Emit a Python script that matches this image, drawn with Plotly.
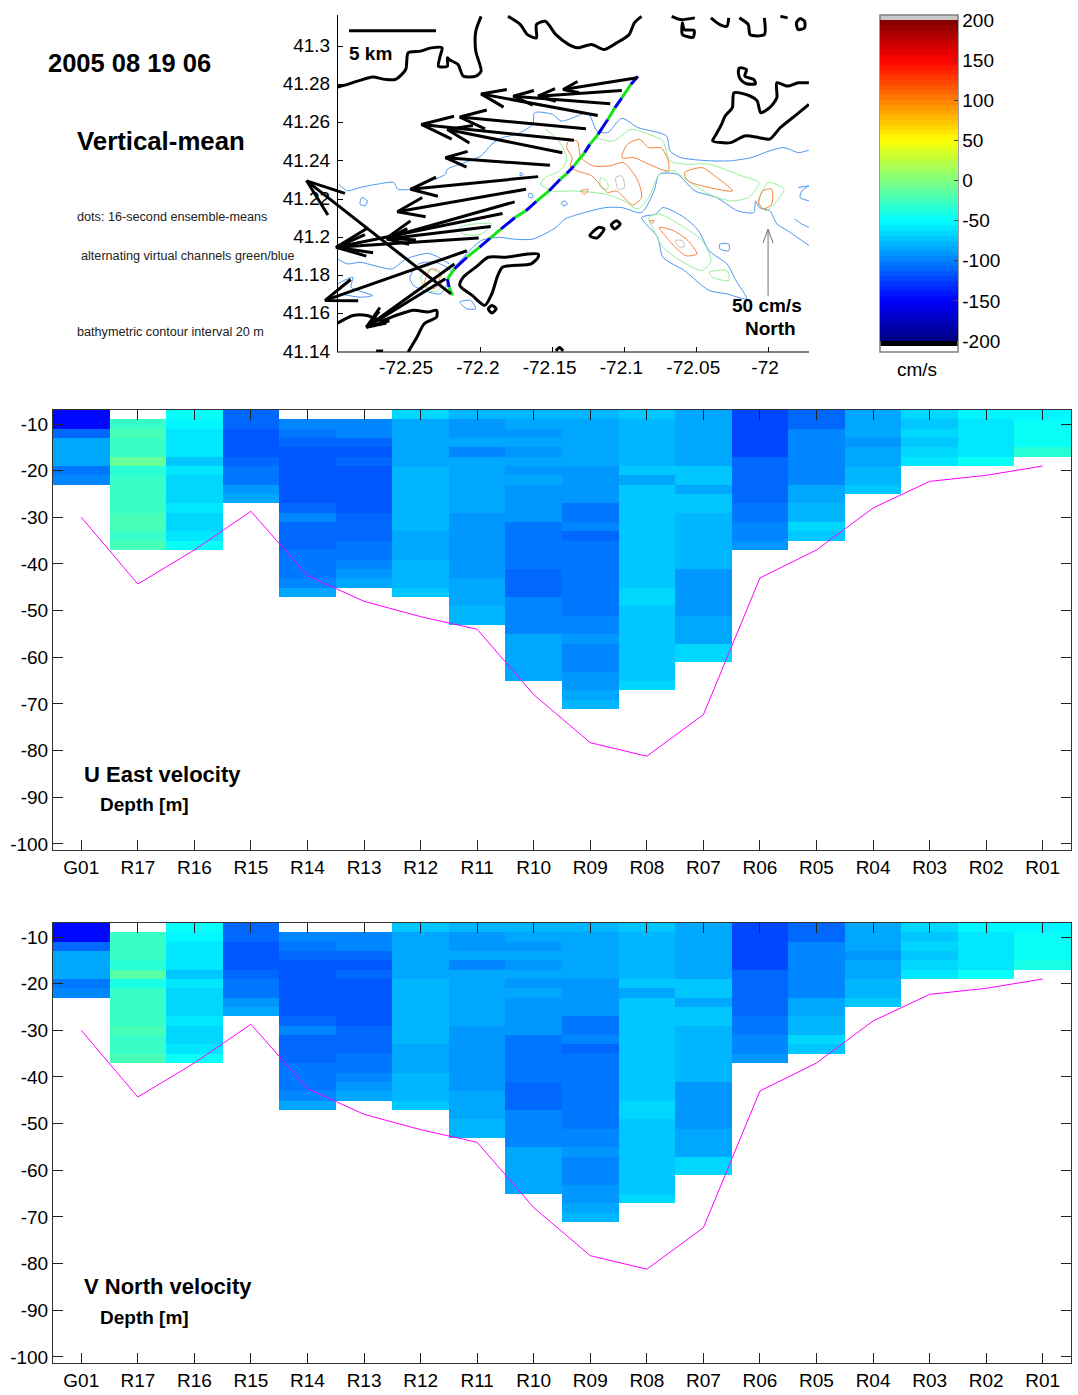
import numpy as np
import plotly.graph_objects as go

FONT = "Liberation Sans, Arial, sans-serif"
W, H = 1078, 1395

stations = ["G01","R17","R16","R15","R14","R13","R12","R11","R10","R09","R08","R07","R06","R05","R04","R03","R02","R01"]
bin_depths = [-8 - 2*i for i in range(32)]
bottom_depth = [-30,-44.3,-37,-28.7,-42.5,-48,-51.3,-54,-68,-78.3,-81.2,-72.3,-43,-37,-28,-22.3,-21,-19]

u_g01 = [-150,-145,-112,-87,-87,-87,-106,-97]
u_r17 = [None,-31,-25,-31,-31,-12,-37,-31,-31,-31,-31,-25,-25,-31,-25]
u_r16 = [-50,-56,-62,-62,-62,-72,-62,-68,-68,-68,-62,-68,-68,-62,-50]
u_r15 = [-112,-110,-115,-115,-115,-112,-102,-102,-90,-83]
u_r14 = [None,-100,-103,-107,-113,-115,-115,-115,-115,-115,-107,-100,-108,-108,-108,-103,-103,-103,-95,-87]
u_r13 = [None,-100,-100,-107,-115,-108,-115,-115,-115,-115,-115,-110,-110,-110,-105,-105,-97,-90,-82]
u_r12 = [-68,-83,-87,-87,-87,-87,-81,-81,-81,-81,-81,-81,-81,-87,-87,-87,-81,-81,-81,-75]
u_r11 = [-81,-92,-92,-87,-95,-87,-87,-87,-87,-87,-87,-92,-92,-90,-92,-92,-92,-92,-87,-87,-87,-81,-81]
u_r10 = [-81,-85,-93,-85,-93,-85,-93,-85,-93,-93,-93,-93,-103,-103,-103,-103,-103,-110,-110,-110,-100,-95,-95,-95,-87,-87,-87,-87,-87]
u_r09 = [-76,-82,-87,-87,-87,-87,-93,-93,-93,-93,-106,-106,-100,-112,-103,-103,-103,-103,-103,-103,-103,-103,-97,-97,-91,-100,-100,-100,-92,-92,-85,-78]
u_r08 = [-75,-81,-81,-81,-81,-81,-75,-83,-75,-75,-75,-75,-75,-75,-75,-75,-75,-75,-75,-68,-68,-75,-75,-75,-75,-75,-75,-75,-75,-68]
u_r07 = [-87,-87,-87,-87,-83,-83,-75,-75,-83,-75,-75,-81,-81,-81,-81,-81,-81,-89,-89,-89,-89,-89,-83,-83,-83,-68,-68]
u_r06 = [-119,-119,-119,-119,-119,-112,-112,-112,-112,-112,-106,-106,-100,-100,-92]
u_r05 = [-108,-108,-100,-100,-100,-100,-94,-94,-87,-87,-81,-81,-68,-75]
u_r04 = [-87,-87,-87,-93,-87,-87,-81,-81,-75]
u_r03 = [-68,-75,-68,-75,-68,-62]
u_r02 = [-56,-62,-62,-62,-62,-50]
u_r01 = [-56,-50,-50,-50,-37]

v_g01 = [-150,-145,-112,-87,-87,-87,-106,-97]
v_r17 = [None,-31,-27,-31,-32,-14,-38,-31,-31,-31,-31,-24,-31,-31,-24]
v_r16 = [-50,-56,-62,-62,-62,-72,-60,-68,-68,-68,-60,-66,-66,-60,-50]
v_r15 = [-112,-110,-115,-115,-115,-112,-102,-102,-90,-83]
v_r14 = [None,-100,-103,-107,-113,-115,-115,-115,-115,-115,-107,-100,-108,-108,-108,-103,-103,-103,-95,-87]
v_r13 = [None,-100,-100,-107,-115,-108,-115,-115,-115,-115,-115,-110,-110,-110,-105,-105,-97,-90,-82]
v_r12 = [-74,-83,-87,-87,-87,-87,-81,-81,-81,-81,-81,-81,-81,-87,-87,-87,-81,-81,-81,-75]
v_r11 = [-81,-92,-92,-87,-95,-87,-87,-87,-87,-87,-87,-92,-92,-90,-92,-92,-92,-92,-87,-87,-87,-81,-81]
v_r10 = [-81,-85,-93,-85,-93,-85,-93,-85,-93,-93,-93,-93,-103,-103,-103,-103,-103,-110,-110,-110,-100,-95,-95,-95,-87,-87,-87,-87,-87]
v_r09 = [-76,-82,-87,-87,-87,-87,-93,-93,-93,-93,-106,-106,-100,-112,-103,-103,-103,-103,-103,-103,-103,-103,-97,-97,-91,-100,-100,-100,-92,-92,-85,-78]
v_r08 = [-73,-81,-81,-81,-81,-81,-75,-83,-75,-75,-75,-75,-75,-75,-75,-75,-75,-75,-75,-68,-68,-75,-75,-75,-75,-75,-75,-75,-75,-68]
v_r07 = [-87,-87,-87,-87,-83,-83,-75,-75,-83,-75,-75,-81,-81,-81,-81,-81,-81,-89,-89,-89,-89,-89,-83,-83,-83,-68,-68]
v_r06 = [-119,-119,-119,-119,-119,-112,-112,-112,-112,-112,-106,-106,-100,-100,-92]
v_r05 = [-108,-108,-100,-100,-100,-100,-94,-94,-87,-87,-81,-81,-68,-75]
v_r04 = [-87,-87,-87,-93,-87,-87,-81,-81,-75]
v_r03 = [-68,-74,-68,-75,-68,-62]
v_r02 = [-56,-62,-62,-62,-62,-50]
v_r01 = [-56,-50,-50,-50,-38]

# coastline pieces (lon, lat)
coast_nw = [(-72.2997,41.2787),(-72.2928,41.2801),(-72.2841,41.2822),(-72.2754,41.2839),(-72.2667,41.2827),(-72.2593,41.2827),(-72.2523,41.2879),(-72.2506,41.2966),(-72.2419,41.2975),(-72.2345,41.2992),(-72.2270,41.2992),(-72.2283,41.2949),(-72.2295,41.2896),(-72.2233,41.2896),(-72.2233,41.2940),(-72.2221,41.2931),(-72.2159,41.2905),(-72.2122,41.2844),(-72.2035,41.2844),(-72.1998,41.2870),(-72.2035,41.2975),(-72.2035,41.3079),(-72.1998,41.3157)]
coast_n = [(-72.1811,41.3157),(-72.1725,41.3114),(-72.1675,41.3061),(-72.1613,41.3044),(-72.1613,41.3114),(-72.1551,41.3131),(-72.1477,41.3061),(-72.1390,41.3010),(-72.1328,41.2992),(-72.1229,41.3010),(-72.1142,41.2983),(-72.1055,41.3018),(-72.0968,41.3061),(-72.0931,41.3123),(-72.0881,41.3157)]
coast_c = [(-72.0671,41.3157),(-72.0609,41.3140),(-72.0510,41.3149)]
coast_c2 = [(-72.0596,41.3123),(-72.0596,41.3061),(-72.0522,41.3048),(-72.0515,41.3083),(-72.0584,41.3088),(-72.0596,41.3123)]
coast_d = [(-72.0398,41.3149),(-72.0336,41.3114),(-72.0287,41.3105),(-72.0274,41.3149)]
coast_e = [(-72.0200,41.3149),(-72.0138,41.3114),(-72.0125,41.3061),(-72.0026,41.3061),(-72.0026,41.3149)]
coast_f = [(-71.9914,41.3157),(-71.9864,41.3149)]
coast_g = [(-71.9803,41.3122),(-71.9790,41.3088),(-71.9746,41.3097),(-71.9746,41.3131),(-71.9778,41.3145),(-71.9803,41.3122)]
coast_h = [(-72.0199,41.2887),(-72.0150,41.2879),(-72.0162,41.2844),(-72.0100,41.2827),(-72.0088,41.2804),(-72.0150,41.2804),(-72.0192,41.2827),(-72.0207,41.2862),(-72.0199,41.2887)]
coast_i = [(-71.9716,41.2809),(-71.9790,41.2809),(-71.9865,41.2792),(-71.9939,41.2809),(-71.9939,41.2731),(-71.9989,41.2679),(-72.0051,41.2653),(-72.0076,41.2714),(-72.0125,41.2740),(-72.0237,41.2757),(-72.0249,41.2679),(-72.0299,41.2635),(-72.0324,41.2592),(-72.0361,41.2540),(-72.0386,41.2505),(-72.0262,41.2496),(-72.0162,41.2531),(-72.0063,41.2522),(-71.9989,41.2514),(-71.9914,41.2575),(-71.9815,41.2635),(-71.9716,41.2696)]
coast_j = [(-72.1241,41.2009),(-72.1179,41.2052),(-72.1142,41.2044),(-72.1191,41.1997),(-72.1241,41.2009)]
coast_k = [(-72.1092,41.2066),(-72.1055,41.2087),(-72.1030,41.2070),(-72.1067,41.2044),(-72.1092,41.2066)]
coast_l = [(-72.1601,41.1913),(-72.1675,41.1913),(-72.1824,41.1896),(-72.1948,41.1896),(-72.2035,41.1844),(-72.2122,41.1792),(-72.2146,41.1748),(-72.2060,41.1696),(-72.1973,41.1644),(-72.1923,41.1705),(-72.1886,41.1792),(-72.1849,41.1844),(-72.1650,41.1861),(-72.1601,41.1896),(-72.1601,41.1913)]
coast_dot = [(-72.1948,41.1626),(-72.1923,41.1644),(-72.1893,41.1626),(-72.1923,41.1604),(-72.1948,41.1626)]
coast_m = [(-72.2997,41.1551),(-72.2890,41.1591),(-72.2791,41.1591),(-72.2692,41.1565),(-72.2593,41.1591),(-72.2469,41.1618),(-72.2370,41.1609),(-72.2308,41.1618),(-72.2308,41.1583),(-72.2394,41.1548),(-72.2444,41.1478),(-72.2506,41.1400)]
coast_n1 = [(-72.2729,41.1405),(-72.2680,41.1405)]
coast_n2 = [(-72.1477,41.1405),(-72.1452,41.1423),(-72.1427,41.1405)]

# bathymetric contours (lon, lat)
blue_north = [(-72.2990,41.2279),(-72.2928,41.2244),(-72.2841,41.2261),(-72.2717,41.2279),(-72.2605,41.2287),(-72.2580,41.2253),(-72.2481,41.2253),(-72.2345,41.2296),(-72.2246,41.2331),(-72.2233,41.2357),(-72.2146,41.2383),(-72.1998,41.2427),(-72.1923,41.2488),(-72.1849,41.2522),(-72.1750,41.2540),(-72.1638,41.2592),(-72.1626,41.2653),(-72.1502,41.2644),(-72.1440,41.2609),(-72.1328,41.2635),(-72.1254,41.2653),(-72.1192,41.2557),(-72.1117,41.2548),(-72.1018,41.2623),(-72.0906,41.2575),(-72.0708,41.2531),(-72.0683,41.2453),(-72.0609,41.2418),(-72.0410,41.2401),(-72.0262,41.2401),(-72.0113,41.2418),(-71.9989,41.2453),(-71.9890,41.2470),(-71.9790,41.2444),(-71.9716,41.2456)]
blue_south = [(-72.2184,41.1843),(-72.1998,41.1983),(-72.1873,41.2000),(-72.1774,41.1991),(-72.1638,41.1991),(-72.1477,41.2052),(-72.1414,41.2096),(-72.1278,41.2130),(-72.1129,41.2156),(-72.1018,41.2156),(-72.0881,41.2130),(-72.0794,41.2243),(-72.0757,41.2330),(-72.0633,41.2330),(-72.0509,41.2243),(-72.0360,41.2209),(-72.0211,41.2139),(-72.0100,41.2130),(-72.0087,41.2191),(-72.0062,41.2156),(-71.9988,41.2139),(-71.9938,41.2070),(-71.9864,41.2035),(-71.9715,41.1957)]
blue_ridge = [(-72.0881,41.2104),(-72.0782,41.2122),(-72.0732,41.2156),(-72.0583,41.2104),(-72.0484,41.2035),(-72.0410,41.1930),(-72.0286,41.1861),(-72.0224,41.1774),(-72.0149,41.1678),(-72.0286,41.1704),(-72.0410,41.1722),(-72.0583,41.1826),(-72.0732,41.1896),(-72.0769,41.2000),(-72.0881,41.2104)]
blue_sw = [(-72.2997,41.1887),(-72.2928,41.1861),(-72.2841,41.1870),(-72.2742,41.1852),(-72.2618,41.1835),(-72.2519,41.1887),(-72.2370,41.1916),(-72.2295,41.1896),(-72.2221,41.1861)]
blue_sw2 = [(-72.2494,41.1791),(-72.2432,41.1861),(-72.2320,41.1870),(-72.2208,41.1826),(-72.2233,41.1757),(-72.2283,41.1704),(-72.2394,41.1722),(-72.2469,41.1748),(-72.2494,41.1791)]
blue_w = [(-72.2997,41.1757),(-72.2891,41.1791),(-72.2903,41.1739),(-72.2754,41.1696),(-72.2841,41.1687),(-72.2978,41.1704)]
blue_s1 = [(-72.2146,41.1661),(-72.2072,41.1670),(-72.2035,41.1626),(-72.2097,41.1626),(-72.2146,41.1661)]
blue_b1 = [(-72.2829,41.2209),(-72.2791,41.2191),(-72.2804,41.2165),(-72.2841,41.2174),(-72.2829,41.2209)]
blue_b2 = [(-72.1439,41.2183),(-72.1414,41.2191),(-72.1397,41.2174),(-72.1427,41.2165),(-72.1439,41.2183)]
blue_b3 = [(-72.0335,41.1965),(-72.0273,41.1965),(-72.0273,41.1930),(-72.0335,41.1939),(-72.0335,41.1965)]
blue_b4 = [(-71.9790,41.2261),(-71.9715,41.2270)]
blue_b5 = [(-71.9715,41.2270),(-71.9765,41.2243),(-71.9777,41.2209),(-71.9715,41.2191)]
blue_b6 = [(-72.1670,41.2226),(-72.1645,41.2229),(-72.1638,41.2209),(-72.1663,41.2209),(-72.1670,41.2226)]
blue_b7 = [(-72.1725,41.2339),(-72.1705,41.2330),(-72.1725,41.2322),(-72.1725,41.2339)]
blue_b8 = [(-71.9814,41.2096),(-71.9765,41.2070),(-71.9715,41.2052)]

green_a = [(-72.1588,41.2278),(-72.1551,41.2313),(-72.1452,41.2348),(-72.1402,41.2400),(-72.1427,41.2469),(-72.1501,41.2539),(-72.1551,41.2565)]
green_b = [(-72.1204,41.2522),(-72.1080,41.2504),(-72.0955,41.2565),(-72.0831,41.2539),(-72.0732,41.2504),(-72.0683,41.2400),(-72.0571,41.2383),(-72.0410,41.2383),(-72.0186,41.2322),(-72.0062,41.2287),(-72.0137,41.2209),(-72.0261,41.2191),(-72.0410,41.2226),(-72.0558,41.2296),(-72.0658,41.2348),(-72.0757,41.2330),(-72.0831,41.2209),(-72.0906,41.2148),(-72.1005,41.2191),(-72.1129,41.2226),(-72.1352,41.2243),(-72.1501,41.2243),(-72.1588,41.2278)]
green_c = [(-72.0062,41.2183),(-72.0000,41.2287),(-71.9889,41.2252),(-71.9938,41.2191),(-72.0013,41.2139),(-72.0062,41.2183)]
green_d = [(-72.0831,41.2104),(-72.0757,41.2122),(-72.0583,41.2052),(-72.0459,41.1983),(-72.0397,41.1878),(-72.0459,41.1826),(-72.0608,41.1878),(-72.0732,41.1948),(-72.0794,41.2035),(-72.0831,41.2104)]
green_e = [(-72.0410,41.1817),(-72.0286,41.1826),(-72.0273,41.1774),(-72.0385,41.1791),(-72.0410,41.1817)]
green_f = [(-72.2419,41.1791),(-72.2345,41.1835),(-72.2270,41.1791),(-72.2295,41.1722),(-72.2370,41.1722),(-72.2419,41.1791)]
green_g = [(-72.2146,41.2052),(-72.2047,41.2070),(-72.1923,41.2070),(-72.1998,41.2017),(-72.2122,41.2017),(-72.2146,41.2052)]
green_h = [(-72.1166,41.2313),(-72.1117,41.2287),(-72.1117,41.2252),(-72.1166,41.2261),(-72.1166,41.2313)]

orange_a = [(-72.1390,41.2504),(-72.1328,41.2504),(-72.1303,41.2417),(-72.1216,41.2374),(-72.1104,41.2374),(-72.1005,41.2391),(-72.0906,41.2296),(-72.0881,41.2209),(-72.0943,41.2170),(-72.1055,41.2243),(-72.1117,41.2235),(-72.1154,41.2261),(-72.1228,41.2322),(-72.1328,41.2348),(-72.1377,41.2365),(-72.1365,41.2417),(-72.1402,41.2469),(-72.1390,41.2504)]
orange_b = [(-72.1018,41.2417),(-72.0980,41.2487),(-72.0893,41.2513),(-72.0831,41.2469),(-72.0745,41.2469),(-72.0695,41.2400),(-72.0695,41.2348),(-72.0831,41.2383),(-72.0931,41.2417),(-72.1018,41.2417)]
orange_c = [(-72.0583,41.2339),(-72.0459,41.2365),(-72.0385,41.2330),(-72.0248,41.2243),(-72.0410,41.2261),(-72.0558,41.2296),(-72.0583,41.2339)]
orange_d = [(-72.0067,41.2183),(-72.0037,41.2243),(-71.9975,41.2252),(-71.9975,41.2174),(-72.0037,41.2148),(-72.0067,41.2183)]
orange_e = [(-72.1303,41.2243),(-72.1253,41.2252),(-72.1278,41.2226),(-72.1303,41.2243)]
orange_f = [(-72.0757,41.2052),(-72.0658,41.2035),(-72.0558,41.1983),(-72.0496,41.1913),(-72.0571,41.1904),(-72.0658,41.1957),(-72.0707,41.2000),(-72.0757,41.2052)]
orange_g = [(-72.0826,41.2087),(-72.0794,41.2087),(-72.0807,41.2073),(-72.0826,41.2087)]
orange_h = [(-72.2394,41.1757),(-72.2345,41.1835),(-72.2283,41.1817),(-72.2308,41.1739),(-72.2357,41.1730),(-72.2394,41.1757)]

gray_a = [(-72.1060,41.2313),(-72.1018,41.2322),(-72.1000,41.2261),(-72.1042,41.2252),(-72.1060,41.2313)]
gray_b = [(-72.0646,41.1983),(-72.0596,41.1983),(-72.0583,41.1951),(-72.0620,41.1951),(-72.0646,41.1983)]

# ship track and vertical-mean velocity vectors
track = [(-72.0906,41.2843),(-72.0956,41.2800),(-72.1018,41.2730),(-72.1067,41.2678),(-72.1116,41.2617),(-72.1184,41.2539),(-72.1241,41.2487),(-72.1278,41.2443),(-72.1352,41.2374),(-72.1402,41.2334),(-72.1447,41.2304),(-72.1526,41.2243),(-72.1613,41.2188),(-72.1687,41.2139),(-72.1762,41.2104),(-72.1861,41.2043),(-72.1935,41.1996),(-72.2010,41.1948),(-72.2097,41.1896),(-72.2184,41.1835),(-72.2233,41.1783),(-72.2221,41.1739),(-72.2196,41.1696)]
arrow_tail = [(-72.0911,41.2835),(-72.1018,41.2769),(-72.1099,41.2699),(-72.1186,41.2638),(-72.1268,41.2569),(-72.1352,41.2508),(-72.1432,41.2443),(-72.1519,41.2377),(-72.1601,41.2318),(-72.1685,41.2252),(-72.1764,41.2186),(-72.1849,41.2125),(-72.1931,41.2057),(-72.2015,41.1997),(-72.2097,41.1930),(-72.2184,41.1861),(-72.2246,41.1783),(-72.2208,41.1704)]
arrow_tip = [(-72.1427,41.2774),(-72.1601,41.2739),(-72.1774,41.2739),(-72.1998,41.2751),(-72.2146,41.2630),(-72.2414,41.2591),(-72.2233,41.2565),(-72.2246,41.2417),(-72.2489,41.2252),(-72.2581,41.2134),(-72.2655,41.1997),(-72.3007,41.1948),(-72.2655,41.1991),(-72.3007,41.1948),(-72.3084,41.1670),(-72.2796,41.1530),(-72.2796,41.1530),(-72.3213,41.2296)]
north_tail = [(-72.0000,41.1695)]
north_tip = [(-72.0000,41.2043)]
scale_bar = [(-72.2918,41.3081),(-72.2312,41.3081)]

# ---- helpers ----
MAP_X = [-72.3259,-71.9715]   # plot area starts left of the drawn axis so long vectors are not clipped
MAP_Y = [41.14,41.3164]
PX_LON = 509/(MAP_X[1]-MAP_X[0])
PX_LAT = 337/(MAP_Y[1]-MAP_Y[0])

def jet_steps(n=64):
    scale = []
    for i in range(n):
        x = (i+0.5)/n
        r = np.clip(min(4*x-1.5,-4*x+4.5),0,1)
        g = np.clip(min(4*x-0.5,-4*x+3.5),0,1)
        b = np.clip(min(4*x+0.5,-4*x+2.5),0,1)
        c = f"rgb({int(r*255)},{int(g*255)},{int(b*255)})"
        scale += [[i/n,c],[(i+1)/n,c]]
    return scale

def rows(cols):
    filled = [list(c)+[None]*(len(bin_depths)-len(c)) for c in cols]
    return [list(r) for r in zip(*filled)]

def polyline(pieces):
    xs, ys = [], []
    for p in pieces:
        xs += [q[0] for q in p]+[None]
        ys += [q[1] for q in p]+[None]
    return xs, ys

def quiver(tails, tips, ratio=0.22, ang=20):
    xs, ys = [], []
    a = np.radians(ang)
    for (x0,y0),(x1,y1) in zip(tails,tips):
        dx, dy = (x0-x1)*PX_LON, (y0-y1)*PX_LAT
        bx, by = [], []
        for s in (a,-a):
            ex = ratio*(dx*np.cos(s)-dy*np.sin(s))
            ey = ratio*(dx*np.sin(s)+dy*np.cos(s))
            bx.append(x1+ex/PX_LON); by.append(y1+ey/PX_LAT)
        xs += [x0,x1,None,bx[0],x1,bx[1],None]
        ys += [y0,y1,None,by[0],y1,by[1],None]
    return xs, ys

def px(x): return x/W
def py(y): return 1-y/H

def text(t, x, y, size, anchor="left", color="black"):
    if anchor == "left":
        x -= 2
    return dict(text=t, xref="paper", yref="paper", x=px(x), y=py(y-0.5), xanchor=anchor, yanchor="middle",
                showarrow=False, font=dict(family=FONT, size=size, color=color))

JET = jet_steps()
fig = go.Figure()

u_cols = [u_g01,u_r17,u_r16,u_r15,u_r14,u_r13,u_r12,u_r11,u_r10,u_r09,u_r08,u_r07,u_r06,u_r05,u_r04,u_r03,u_r02,u_r01]
v_cols = [v_g01,v_r17,v_r16,v_r15,v_r14,v_r13,v_r12,v_r11,v_r10,v_r09,v_r08,v_r07,v_r06,v_r05,v_r04,v_r03,v_r02,v_r01]

cb = dict(thickness=78, thicknessmode="pixels", len=321, lenmode="pixels", x=px(880), xanchor="left",
          y=py(341), yanchor="bottom", xpad=0, ypad=0, outlinewidth=0,
          tickmode="array", tickvals=list(range(-200,201,50)), ticktext=[str(v) for v in range(-200,201,50)],
          ticks="inside", ticklen=4, tickcolor="#444", tickwidth=1,
          tickfont=dict(family=FONT,size=19,color="black"))

fig.add_trace(go.Heatmap(x=stations,y=bin_depths,z=rows(u_cols),colorscale=JET,zmin=-200,zmax=200,
                         colorbar=cb,xaxis="x",yaxis="y",hoverongaps=False))
fig.add_trace(go.Scatter(x=stations,y=bottom_depth,mode="lines",line=dict(color="#ff00ff",width=1),xaxis="x",yaxis="y",showlegend=False))
fig.add_trace(go.Heatmap(x=stations,y=bin_depths,z=rows(v_cols),colorscale=JET,zmin=-200,zmax=200,
                         showscale=False,xaxis="x2",yaxis="y2",hoverongaps=False))
fig.add_trace(go.Scatter(x=stations,y=bottom_depth,mode="lines",line=dict(color="#ff00ff",width=1),xaxis="x2",yaxis="y2",showlegend=False))

def map_lines(pieces,color,width,smooth=True):
    xs,ys = polyline(pieces)
    line = dict(color=color,width=width)
    if smooth:
        line.update(shape="spline",smoothing=0.7)
    fig.add_trace(go.Scatter(x=xs,y=ys,mode="lines",line=line,xaxis="x3",yaxis="y3",
                             showlegend=False,connectgaps=False))

map_lines([blue_north,blue_south,blue_ridge,blue_sw,blue_sw2,blue_w,blue_s1,blue_b1,blue_b2,blue_b3,blue_b4,blue_b5,blue_b6,blue_b7,blue_b8],"#4a96f0",1)
map_lines([green_a,green_b,green_c,green_d,green_e,green_f,green_g,green_h],"#96f096",1)
map_lines([orange_a,orange_b,orange_c,orange_d,orange_e,orange_f,orange_g,orange_h],"#f5823c",1)
map_lines([gray_a,gray_b],"#c0c0c0",1)
map_lines([coast_nw,coast_n,coast_c,coast_c2,coast_d,coast_e,coast_f,coast_g,coast_h,coast_i,coast_j,coast_k,coast_l,coast_dot,coast_m,coast_n1,coast_n2],"black",3)
map_lines([[track[i],track[i+1]] for i in range(0,len(track)-1,2)],"#0000e6",3,False)
map_lines([[track[i],track[i+1]] for i in range(1,len(track)-1,2)],"#14e614",3,False)
map_lines([scale_bar],"black",3,False)

ax,ay = quiver(arrow_tail,arrow_tip)
fig.add_trace(go.Scatter(x=ax,y=ay,mode="lines",line=dict(color="black",width=3),xaxis="x3",yaxis="y3",showlegend=False))
nx,ny = quiver(north_tail,north_tip)
fig.add_trace(go.Scatter(x=nx,y=ny,mode="lines",line=dict(color="#707070",width=1),xaxis="x3",yaxis="y3",showlegend=False))

depth_ticks = list(range(-10,-101,-10))
def section_axes(top,bottom,xname,yname):
    fig.update_layout(**{
        xname: dict(domain=[px(53),px(1071)],range=[-0.5,17.5],type="category",categoryorder="array",categoryarray=stations,
                    anchor=yname.replace("axis",""),ticks="inside",ticklen=10,tickcolor="#222",tickwidth=1,showline=True,
                    linecolor="#333",linewidth=1,mirror="ticks",showgrid=False,zeroline=False,
                    tickmode="array",tickvals=stations,ticktext=stations,tickangle=0,
                    tickfont=dict(family=FONT,size=19,color="black")),
        yname: dict(domain=[py(bottom),py(top)],range=[-101.3,-7],anchor=xname.replace("axis",""),ticks="inside",ticklen=10,
                    tickcolor="#222",tickwidth=1,showline=True,linecolor="#333",linewidth=1,mirror="ticks",showgrid=False,zeroline=False,
                    tickmode="array",tickvals=depth_ticks,ticktext=[str(v) for v in depth_ticks],
                    tickfont=dict(family=FONT,size=19,color="black")),
    })
section_axes(410,850,"xaxis","yaxis")
section_axes(923,1363,"xaxis2","yaxis2")

lon_ticks = [-72.25,-72.2,-72.15,-72.1,-72.05,-72]
lat_ticks = [41.14,41.16,41.18,41.2,41.22,41.24,41.26,41.28,41.3]
fig.update_layout(
    xaxis3=dict(domain=[px(300),px(809)],range=MAP_X,anchor="y3",ticks="inside",ticklen=5,tickcolor="black",showline=False,
                showgrid=False,zeroline=False,tickmode="array",tickvals=lon_ticks,ticktext=[str(v) for v in lon_ticks],
                ticklabelshift=-3,ticklabelstandoff=2,
                tickfont=dict(family=FONT,size=19,color="black")),
    yaxis3=dict(domain=[py(352),py(15)],range=MAP_Y,anchor="free",position=px(337),ticks="inside",ticklen=5,tickcolor="black",showline=True,
                linecolor="black",showgrid=False,zeroline=False,tickmode="array",tickvals=lat_ticks,ticktext=[f"{v:g}" for v in lat_ticks],
                ticklabelshift=-1,ticklabelstandoff=3,
                tickfont=dict(family=FONT,size=19,color="black")),
)

shapes = [
    dict(type="line",xref="paper",yref="paper",x0=px(337),x1=px(809),y0=py(352),y1=py(352),line=dict(width=1,color="black")),
    dict(type="rect",xref="paper",yref="paper",x0=px(880),x1=px(958),y0=py(20),y1=py(15),fillcolor="#c8c8c8",line=dict(width=0)),
    dict(type="rect",xref="paper",yref="paper",x0=px(880),x1=px(958),y0=py(346),y1=py(341),fillcolor="black",line=dict(width=0)),
    dict(type="rect",xref="paper",yref="paper",x0=px(880),x1=px(958),y0=py(352),y1=py(15),fillcolor="rgba(0,0,0,0)",line=dict(width=1.5,color="#808080")),
]
annots = [
    text("<b>2005 08 19 06</b>",48,64,25.5),
    text("<b>Vertical-mean</b>",77,142,25.8),
    text("dots: 16-second ensemble-means",77,218,12.65,color="#222"),
    text("alternating virtual channels green/blue",81,256,12.65,color="#222"),
    text("bathymetric contour interval 20 m",77,332,12.65,color="#222"),
    text("<b>5 km</b>",349,54,19),
    text("<b>50 cm/s</b>",767,306,19,"center"),
    text("<b>North</b>",770,329,19,"center"),
    text("cm/s",917,370,19,"center"),
    text("<b>U East velocity</b>",84,775,22),
    text("<b>Depth [m]</b>",100,805,19),
    text("<b>V North velocity</b>",84,1287,22),
    text("<b>Depth [m]</b>",100,1318,19),
]
fig.update_layout(width=W,height=H,margin=dict(l=0,r=0,t=0,b=0,autoexpand=False),paper_bgcolor="white",plot_bgcolor="white",
                  showlegend=False,shapes=shapes,annotations=annots,font=dict(family=FONT))
fig.write_html("out.html",config={"displayModeBar":False},post_script="document.body.style.margin='0';document.documentElement.style.overflow='hidden';")
